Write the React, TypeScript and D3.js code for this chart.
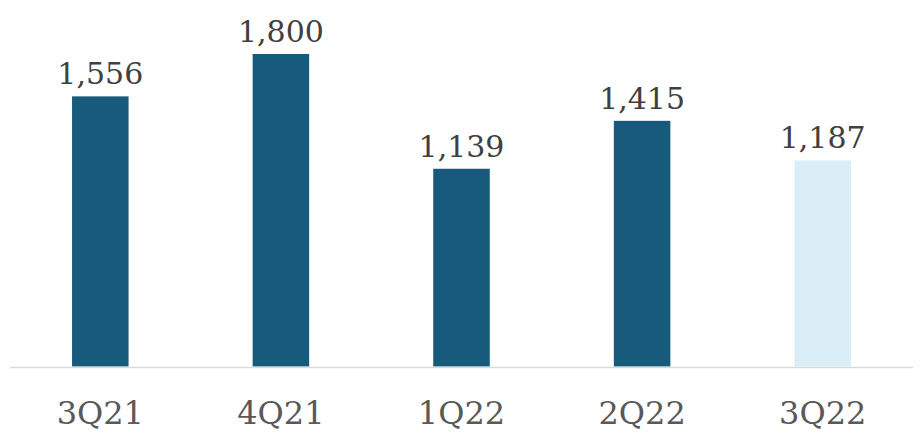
import React from 'react';
import * as d3 from 'd3';

const quarters = ['3Q21', '4Q21', '1Q22', '2Q22', '3Q22'];
const values = [1556, 1800, 1139, 1415, 1187];
const highlighted = [false, false, false, false, true];

const WIDTH = 922;
const HEIGHT = 439;

export default function App() {
  const margin = { top: 54, left: 10, right: 9, bottom: 72 };
  const baseline = HEIGHT - margin.bottom - 0.5;

  const x = d3.scaleBand<string>()
    .domain(quarters)
    .range([margin.left, WIDTH - margin.right])
    .paddingInner(0.687)
    .paddingOuter(0.3435);

  const y = d3.scaleLinear()
    .domain([0, 1800])
    .range([baseline, margin.top]);

  const fmt = d3.format(',');

  return (
    <svg
      width={WIDTH}
      height={HEIGHT}
      style={{ position: 'absolute', left: 0, top: 0, background: '#fff' }}
      fontFamily="'DejaVu Serif', Georgia, serif"
    >
      {/* bars */}
      {quarters.map((q, i) => (
        <rect
          key={q}
          x={x(q)}
          y={y(values[i])}
          width={x.bandwidth()}
          height={baseline - y(values[i])}
          fill={highlighted[i] ? '#daeef7' : '#175a7c'}
        />
      ))}

      {/* baseline */}
      <line
        x1={margin.left}
        x2={WIDTH - margin.right}
        y1={baseline + 1}
        y2={baseline + 1}
        stroke="#d9d9d9"
        strokeWidth={1.5}
      />

      {/* value labels */}
      {quarters.map((q, i) => (
        <text
          key={q}
          x={(x(q) ?? 0) + x.bandwidth() / 2}
          y={y(values[i]) - 12}
          textAnchor="middle"
          fontSize={30}
          fill="#404040"
        >
          {fmt(values[i])}
        </text>
      ))}

      {/* category labels */}
      {quarters.map((q) => (
        <text
          key={q}
          x={(x(q) ?? 0) + x.bandwidth() / 2}
          y={424}
          textAnchor="middle"
          fontSize={32}
          fill="#595959"
        >
          {q}
        </text>
      ))}
    </svg>
  );
}
